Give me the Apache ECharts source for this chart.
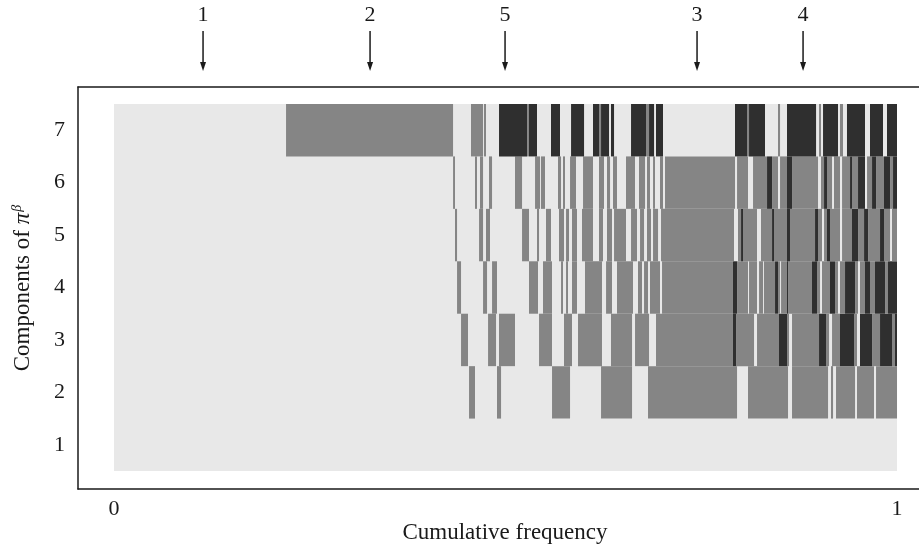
<!DOCTYPE html>
<html>
<head>
<meta charset="utf-8">
<style>
  html, body { margin: 0; padding: 0; background: #ffffff; overflow: hidden; }
  #chart { width: 919px; height: 544px; }
</style>
<script src="https://cdn.jsdelivr.net/npm/echarts@6/dist/echarts.min.js"></script>
</head>
<body>
<div id="chart"></div>
<script>
// Components (rows) of pi^beta
const components = [1, 2, 3, 4, 5, 6, 7];
// x-axis tick labels (cumulative frequency)
const xTicks = [0, 1];

// Segments per component: [start cumulative frequency, end cumulative frequency, shade level]
// shade level: 1 = medium grey, 2 = dark grey (unlisted intervals are light)
const row1 = [];
const row2 = [
  [0.4534,0.4610,1],[0.4891,0.4943,1],[0.5594,0.5824,1],[0.6220,0.6616,1],[0.6820,0.7957,1],
  [0.8097,0.8608,1],[0.8659,0.9119,1],[0.9157,0.9183,1],[0.9221,0.9464,1],[0.9489,0.9706,1],[0.9732,1.0,1]
];
const row3 = [
  [0.4432,0.4521,1],[0.4777,0.4879,1],[0.4917,0.5121,1],[0.5428,0.5594,1],[0.5747,0.5849,1],
  [0.5926,0.6232,1],[0.6347,0.6616,1],[0.6654,0.6833,1],[0.6922,0.7905,1],[0.7905,0.7944,2],
  [0.7944,0.8174,1],[0.8212,0.8493,1],[0.8493,0.8595,2],[0.8595,0.8621,1],[0.8659,0.9004,1],
  [0.9004,0.9093,2],[0.9093,0.9132,1],[0.9170,0.9272,1],[0.9272,0.9451,2],[0.9451,0.9489,1],
  [0.9527,0.9681,2],[0.9681,0.9783,1],[0.9783,0.9936,2],[0.9936,0.9974,1],[0.9974,1.0,2]
];
const row4 = [
  [0.4381,0.4432,1],[0.4713,0.4764,1],[0.4828,0.4891,1],[0.5300,0.5415,1],[0.5479,0.5594,1],
  [0.5709,0.5734,1],[0.5773,0.5798,1],[0.5849,0.5913,1],[0.6015,0.6232,1],[0.6284,0.6360,1],
  [0.6424,0.6628,1],[0.6692,0.6743,1],[0.6769,0.6820,1],[0.6845,0.6973,1],[0.6999,0.7905,1],
  [0.7905,0.7957,2],[0.7957,0.8097,1],[0.8110,0.8212,1],[0.8238,0.8289,1],[0.8301,0.8442,1],
  [0.8442,0.8480,2],[0.8480,0.8506,1],[0.8519,0.8595,1],[0.8595,0.8608,2],[0.8608,0.8914,1],
  [0.8914,0.8978,2],[0.8978,0.9017,1],[0.9042,0.9144,1],[0.9144,0.9208,2],[0.9208,0.9246,1],
  [0.9272,0.9336,1],[0.9336,0.9464,2],[0.9464,0.9502,1],[0.9527,0.9591,1],[0.9591,0.9655,2],
  [0.9655,0.9719,1],[0.9719,0.9847,2],[0.9847,0.9885,1],[0.9885,1.0,2]
];
const row5 = [
  [0.4355,0.4381,1],[0.4662,0.4713,1],[0.4751,0.4802,1],[0.5211,0.5300,1],[0.5402,0.5428,1],
  [0.5517,0.5581,1],[0.5683,0.5747,1],[0.5773,0.5811,1],[0.5849,0.5913,1],[0.5977,0.6117,1],
  [0.6194,0.6245,1],[0.6296,0.6360,1],[0.6386,0.6539,1],[0.6603,0.6679,1],[0.6718,0.6769,1],
  [0.6807,0.6858,1],[0.6884,0.6948,1],[0.6986,0.7918,1],[0.7969,0.8008,1],[0.8008,0.8033,2],
  [0.8033,0.8212,1],[0.8263,0.8404,1],[0.8404,0.8429,2],[0.8429,0.8595,1],[0.8595,0.8633,2],
  [0.8633,0.8953,1],[0.8953,0.8991,2],[0.8991,0.9042,1],[0.9068,0.9106,1],[0.9106,0.9144,2],
  [0.9144,0.9272,1],[0.9298,0.9425,1],[0.9425,0.9502,2],[0.9502,0.9579,1],[0.9579,0.9630,2],
  [0.9630,0.9783,1],[0.9783,0.9834,2],[0.9834,0.9911,1],[0.9936,1.0,1]
];
const row6 = [
  [0.4330,0.4355,1],[0.4610,0.4636,1],[0.4674,0.4713,1],[0.4789,0.4828,1],[0.5121,0.5211,1],
  [0.5377,0.5441,1],[0.5453,0.5504,1],[0.5670,0.5709,1],[0.5734,0.5760,1],[0.5824,0.5900,1],
  [0.5990,0.6117,1],[0.6194,0.6258,1],[0.6296,0.6335,1],[0.6373,0.6424,1],[0.6539,0.6654,1],
  [0.6705,0.6782,1],[0.6807,0.6845,1],[0.6884,0.6909,1],[0.6973,0.7011,1],[0.7037,0.7931,1],
  [0.7957,0.8097,1],[0.8161,0.8340,1],[0.8340,0.8404,2],[0.8404,0.8480,1],[0.8506,0.8595,1],
  [0.8595,0.8659,2],[0.8659,0.8991,1],[0.9029,0.9068,1],[0.9068,0.9106,2],[0.9106,0.9170,1],
  [0.9195,0.9272,1],[0.9298,0.9400,1],[0.9400,0.9425,2],[0.9425,0.9502,1],[0.9502,0.9591,2],
  [0.9617,0.9681,1],[0.9681,0.9732,2],[0.9732,0.9834,1],[0.9834,0.9911,2],[0.9911,0.9949,1],
  [0.9949,1.0,2]
];
const row7 = [
  [0.2197,0.4330,1],[0.4559,0.4713,1],[0.4725,0.4751,1],[0.4917,0.5275,2],[0.5275,0.5300,1],
  [0.5300,0.5402,2],[0.5581,0.5696,2],[0.5837,0.6003,2],[0.6117,0.6194,2],[0.6194,0.6220,1],
  [0.6220,0.6322,2],[0.6347,0.6386,2],[0.6603,0.6794,2],[0.6794,0.6833,1],[0.6833,0.6897,2],
  [0.6922,0.7011,2],[0.7931,0.8084,2],[0.8084,0.8110,1],[0.8110,0.8314,2],[0.8480,0.8506,1],
  [0.8595,0.8966,2],[0.9004,0.9029,1],[0.9055,0.9246,2],[0.9272,0.9310,1],[0.9361,0.9591,2],
  [0.9655,0.9821,2],[0.9872,1.0,2]
];

// Arrow annotations above the chart
const arrowLabels = ['1', '2', '5', '3', '4'];
const arrowPositions = [0.1137, 0.3270, 0.4994, 0.7446, 0.8800];

const levelColors = ['#e8e8e8', '#858585', '#2f2f2f'];
const rows = [row1, row2, row3, row4, row5, row6, row7];

// [x0, x1, centre row, shade, half height in rows]
const cellData = [];
const midRow = (components[0] + components[components.length - 1]) / 2;
cellData.push([0, 1, midRow, 0, components.length / 2]);
rows.forEach(function (segs, i) {
  segs.forEach(function (s) { cellData.push([s[0], s[1], components[i], s[2], 0.5]); });
});
const arrowData = arrowPositions.map(function (p, i) { return { value: [p], name: arrowLabels[i] }; });

const X_MIN = -0.046, X_MAX = 1.0319, Y_MIN = 0.157, Y_MAX = 7.824;
const FONT = '"Liberation Serif", "DejaVu Serif", serif';

const chart = echarts.init(document.getElementById('chart'), null, { renderer: 'canvas' });
chart.setOption({
  animation: false,
  backgroundColor: '#ffffff',
  grid: { left: 78, right: -3, top: 87, bottom: 55, outerBoundsMode: 'none', containLabel: false },
  xAxis: [{
    type: 'value', min: X_MIN, max: X_MAX, position: 'bottom',
    axisLine: { show: true, onZero: false, lineStyle: { color: '#1a1a1a', width: 1.5 } },
    axisTick: { show: false },
    splitLine: { show: false },
    axisLabel: { customValues: xTicks, formatter: function (v) { return String(Math.round(v)); },
      color: '#1a1a1a', fontFamily: FONT, fontSize: 22, margin: 9 },
    name: 'Cumulative frequency', nameLocation: 'middle', nameGap: 32, nameMoveOverlap: false,
    nameTextStyle: { color: '#1a1a1a', fontFamily: FONT, fontSize: 23, padding: [0, 0, 0, 10] }
  }, {
    type: 'value', min: X_MIN, max: X_MAX, position: 'top',
    axisLine: { show: true, onZero: false, lineStyle: { color: '#1a1a1a', width: 1.5 } },
    axisTick: { show: false }, axisLabel: { show: false }, splitLine: { show: false }
  }],
  yAxis: {
    type: 'value', min: Y_MIN, max: Y_MAX,
    axisLine: { show: true, onZero: false, lineStyle: { color: '#1a1a1a', width: 1.5 } },
    axisTick: { show: false },
    splitLine: { show: false },
    axisLabel: { customValues: components, formatter: function (v) { return String(Math.round(v)); },
      color: '#1a1a1a', fontFamily: FONT, fontSize: 22, margin: 13 },
    name: '{n|Components of }{p|π}{b|β}', nameLocation: 'middle', nameGap: 42, nameRotate: 90,
    nameMoveOverlap: false,
    nameTextStyle: {
      color: '#1a1a1a', fontFamily: FONT, fontSize: 23,
      rich: {
        n: { fontFamily: FONT, fontSize: 23, color: '#1a1a1a' },
        p: { fontFamily: FONT, fontSize: 23, fontStyle: 'italic', color: '#1a1a1a' },
        b: { fontFamily: FONT, fontSize: 14, fontStyle: 'italic', color: '#1a1a1a', verticalAlign: 'top', padding: [0, 0, 12, 1] }
      }
    }
  },
  series: [{
    type: 'custom',
    xAxisIndex: 0,
    silent: true,
    renderItem: function (params, api) {
      const x0 = api.value(0), x1 = api.value(1), r = api.value(2), lvl = api.value(3), h = api.value(4);
      const p0 = api.coord([x0, r + h]);
      const p1 = api.coord([x1, r - h]);
      return {
        type: 'rect',
        shape: { x: p0[0], y: p0[1], width: p1[0] - p0[0], height: p1[1] - p0[1] },
        style: { fill: levelColors[lvl] }
      };
    },
    encode: { x: [0, 1], y: 2 },
    data: cellData
  }, {
    type: 'custom',
    xAxisIndex: 0,
    silent: true,
    clip: false,
    renderItem: function (params, api) {
      const p = api.coord([api.value(0), Y_MAX]);
      const x = p[0], y = p[1];
      return {
        type: 'group',
        children: [
          { type: 'line', shape: { x1: x, y1: y - 56, x2: x, y2: y - 22 },
            style: { stroke: '#1a1a1a', lineWidth: 1.5 } },
          { type: 'polygon', shape: { points: [[x - 3, y - 25], [x + 3, y - 25], [x, y - 16]] },
            style: { fill: '#1a1a1a' } },
          { type: 'text', x: x, y: y - 72,
            style: { text: arrowLabels[params.dataIndex], fill: '#1a1a1a', font: '22px ' + FONT,
              align: 'center', verticalAlign: 'middle' } }
        ]
      };
    },
    encode: { x: 0 },
    data: arrowData
  }]
});
</script>
</body>
</html>
